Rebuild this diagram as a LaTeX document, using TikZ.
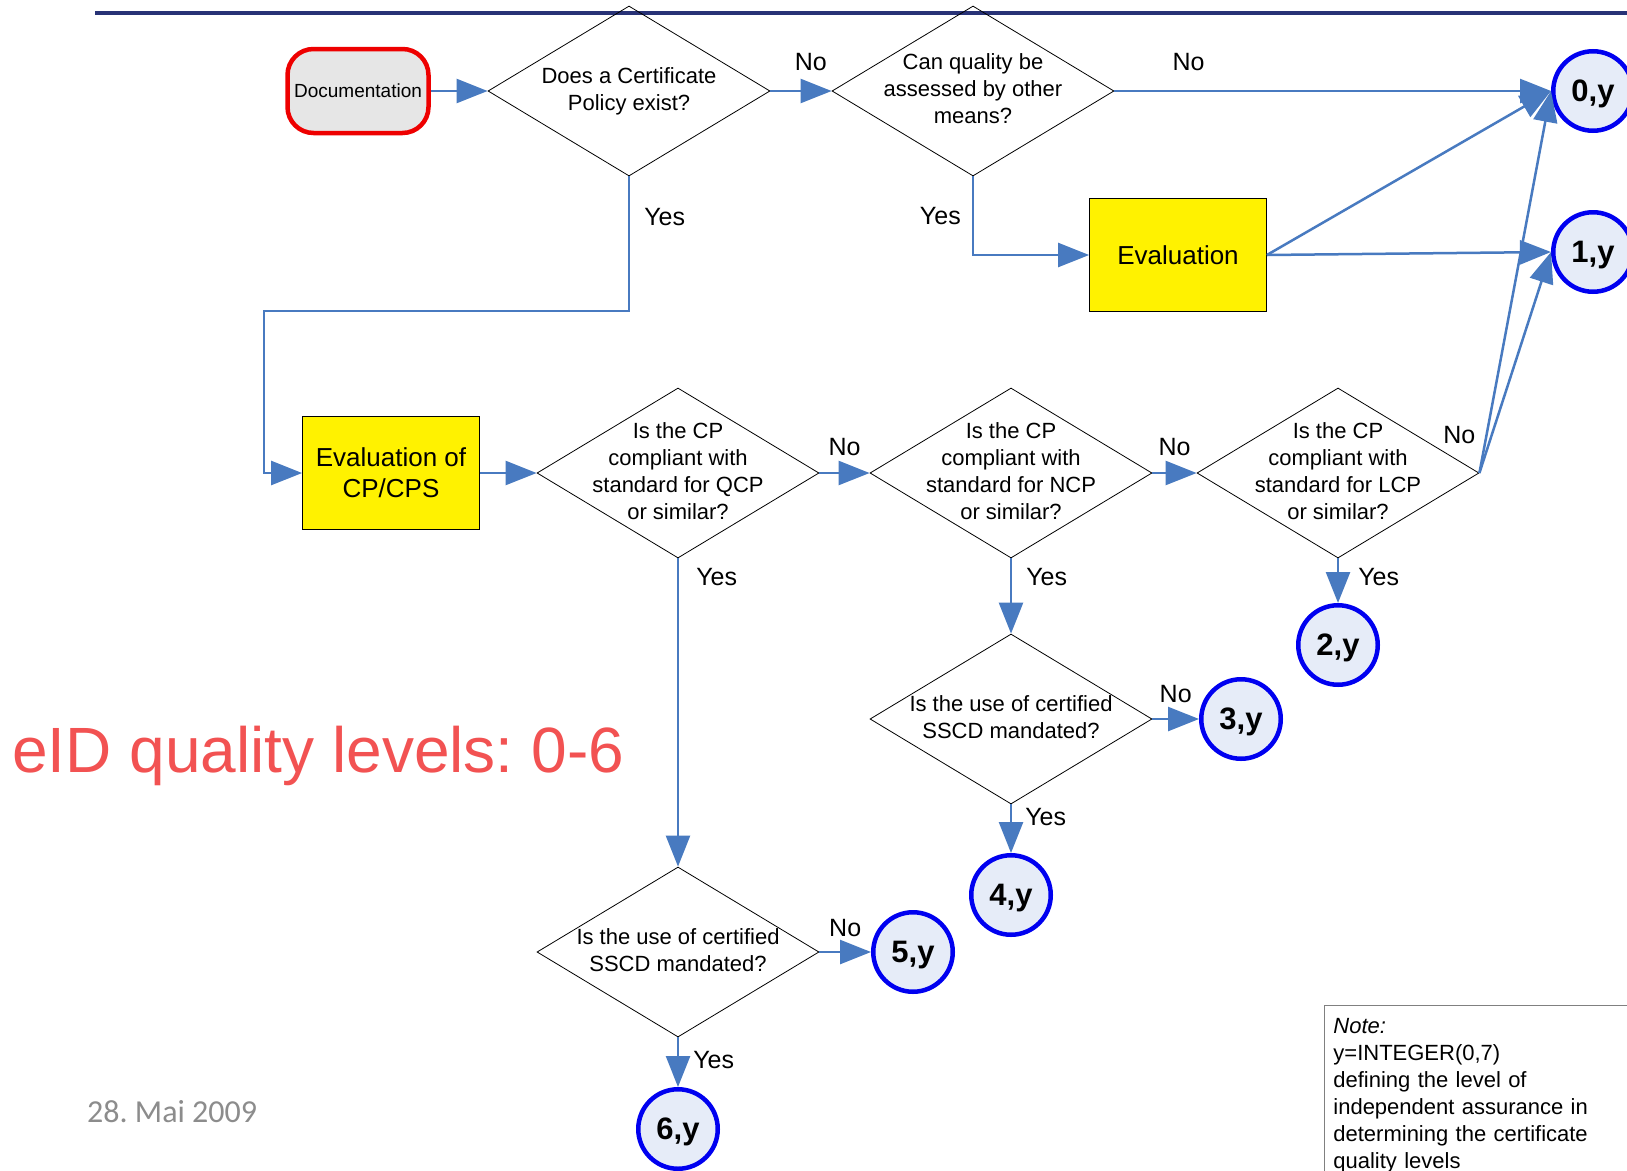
\documentclass[tikz,border=0pt]{standalone}
\usepackage{fontspec}
\setmainfont{Liberation Sans}
\newfontfamily\datefont{Carlito}
\usepackage{tikz}
\usetikzlibrary{
	shapes.geometric,
	positioning,
	arrows.meta
}
\frenchspacing

\definecolor{flowblue}{RGB}{72,122,192}
\definecolor{levelfill}{RGB}{230,236,248}
\definecolor{levelblue}{RGB}{0,0,240}
\definecolor{docred}{RGB}{238,0,0}
\definecolor{docgray}{RGB}{230,230,230}
\definecolor{titlered}{RGB}{242,82,82}
\definecolor{dategray}{RGB}{140,140,140}
\definecolor{rulenavy}{RGB}{40,50,118}

% question text may run over the diamond's edges
\newcommand{\question}[1]{\smash{\raisebox{-.25em}{\makebox[0pt]{\begin{tabular}{@{}c@{}}#1\end{tabular}}}}}

\begin{document}
\begin{tikzpicture}[
		x=1pt, y=-1pt,
		decision/.style={diamond, draw, line width=.8pt, minimum width=282pt, minimum height=170pt, inner sep=0pt, font=\fontsize{22}{27}\selectfont},
		start/.style={rectangle, rounded corners=26pt, draw=docred, line width=4.5pt, fill=docgray, minimum width=141pt, minimum height=84pt, inner sep=0pt, font=\fontsize{19}{19}\selectfont},
		work/.style={rectangle, draw, line width=.8pt, fill=yellow, minimum width=177pt, minimum height=113pt, align=center, font=\fontsize{26}{31}\selectfont},
		level/.style={circle, draw=levelblue, line width=4.5pt, fill=levelfill, minimum size=79.5pt, inner sep=0pt, text depth=0pt, font=\fontsize{31}{31}\selectfont\bfseries},
		answer/.style={inner sep=0pt, font=\fontsize{25}{25}\selectfont},
		flow/.style={draw=flowblue, line width=2.5pt, -{Triangle[length=31pt,width=24pt]}},
		every edge/.style={flow}
	]
		\path[use as bounding box, fill=white] (0,0) rectangle (1627,1170);
		\draw[rulenavy, line width=4pt] (95,12.5) -- (1627,12.5);

		\draw
			node[start]    (doc)    at (358,91)   {Documentation}
			node[decision] (cp)     at (629,91)   {\question{Does a Certificate\\Policy exist?}}
			node[decision] (other)  at (973,91)   {\question{Can quality be\\assessed by other\\means?}}
			node[work]     (eval)   at (1178,255) {Evaluation}
			node[level]    (l0)     at (1593,91)  {0,y}
			node[level]    (l1)     at (1593,252) {1,y}

			node[work]     (evalcp) at (391,473)  {Evaluation of\\CP/CPS}
			node[decision] (qcp)    at (678,473)  {\question{Is the CP\\compliant with\\standard for QCP\\or similar?}}
			node[decision] (ncp)    at (1011,473) {\question{Is the CP\\compliant with\\standard for NCP\\or similar?}}
			node[decision] (lcp)    at (1338,473) {\question{Is the CP\\compliant with\\standard for LCP\\or similar?}}
			node[level]    (l2)     at (1338,645) {2,y}

			node[decision] (sscdn)  at (1011,719) {\question{Is the use of certified\\SSCD mandated?}}
			node[level]    (l3)     at (1241,719) {3,y}
			node[level]    (l4)     at (1011,895) {4,y}
			node[decision] (sscdq)  at (678,952)  {\question{Is the use of certified\\SSCD mandated?}}
			node[level]    (l5)     at (913,952)  {5,y}
			node[level]    (l6)     at (678,1129) {6,y}

			(doc)    edge (cp)
			(cp)     edge node[answer, above=19pt, pos=.66] {No} (other)
			(other)  edge node[answer, above=19pt, pos=.17] {No} (l0)
			(eval.east) edge (l0.west)
			(eval.east) edge (l1.west)

			(evalcp) edge (qcp)
			(qcp)    edge node[answer, above=16pt] {No} (ncp)
			(ncp)    edge node[answer, above=16pt] {No} (lcp)
			(lcp.east) edge node[answer, left=10pt, pos=.1] {No} (l0.west)
			(lcp.east) edge (l1.west)

			(qcp)    edge node[answer, right=17pt, pos=.06] {Yes} (sscdq)
			(ncp)    edge node[answer, right=14pt, pos=.25] {Yes} (sscdn)
			(lcp)    edge node[answer, right=19pt, pos=.42] {Yes} (l2)
			(sscdn)  edge node[answer, above=15pt] {No} (l3)
			(sscdn)  edge node[answer, right=13pt, pos=.25] {Yes} (l4)
			(sscdq)  edge node[answer, above=14pt] {No} (l5)
			(sscdq)  edge node[answer, right=14pt, pos=.46] {Yes} (l6)
		;

		\coordinate (turn) at (264,311);
		\draw[flow] (cp) |- node[answer, right=14pt, pos=.15] {Yes} (turn) |- (evalcp);
		\draw[flow] (other) |- node[answer, left=11pt, pos=.25] {Yes} (eval);

		\node[anchor=base west, inner sep=0pt, text=titlered, font=\fontsize{64}{64}\selectfont] (title) at (12,772) {eID quality levels: 0-6};
		\node[anchor=base west, inner sep=0pt, text=dategray, font=\datefont\fontsize{32}{32}\selectfont] (date) at (87,1122) {28. Mai 2009};
		\node[anchor=north west, draw=gray, line width=.8pt, text width=302pt, align=left, inner xsep=9pt, inner ysep=13pt, font=\fontsize{22}{27}\selectfont] (note) at (1324,1005)
			{\textit{Note:}\\y=INTEGER(0,7)\\defining the level of\\independent assurance in\\determining the certificate\\quality levels};
\end{tikzpicture}
\end{document}
